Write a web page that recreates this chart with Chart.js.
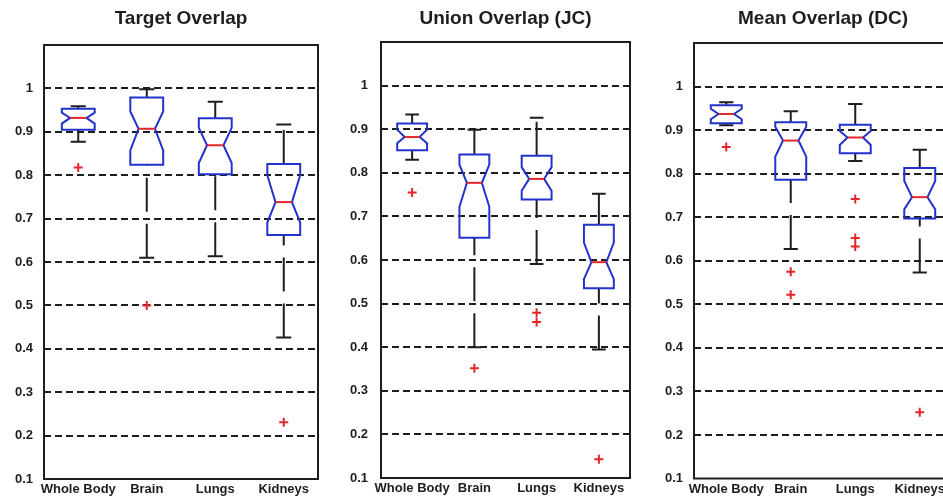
<!DOCTYPE html>
<html>
<head>
<meta charset="utf-8">
<script src="https://cdn.jsdelivr.net/npm/chart.js@4/dist/chart.umd.min.js"></script>
<style>
  html, body { margin: 0; padding: 0; background: #fff; }
  body { width: 943px; height: 502px; position: relative; overflow: hidden; }
  canvas { position: absolute; top: 0; }
</style>
</head>
<body>
<canvas id="target" width="330" height="502" style="left:0px"></canvas>
<canvas id="union" width="320" height="502" style="left:320px"></canvas>
<canvas id="mean" width="340" height="502" style="left:630px"></canvas>
<script>
const categories = ['Whole Body', 'Brain', 'Lungs', 'Kidneys'];
const yTicks = [0.1, 0.2, 0.3, 0.4, 0.5, 0.6, 0.7, 0.8, 0.9, 1];
const yTickLabels = ['0.1', '0.2', '0.3', '0.4', '0.5', '0.6', '0.7', '0.8', '0.9', '1'];
const titles = ['Target Overlap', 'Union Overlap (JC)', 'Mean Overlap (DC)'];

// Target Overlap
const targetLow = [0.877, 0.610, 0.613, 0.426];
const targetQ1 = [0.905, 0.824, 0.802, 0.662];
const targetNotchLo = [0.919, 0.857, 0.828, 0.691];
const targetMedian = [0.932, 0.907, 0.869, 0.738];
const targetNotchHi = [0.944, 0.947, 0.909, 0.800];
const targetQ3 = [0.953, 0.979, 0.931, 0.826];
const targetHigh = [0.959, 0.998, 0.969, 0.917];
const targetOutliers = [[0.818], [0.500], [], [0.231]];

// Union Overlap (JC)
const unionLow = [0.830, 0.400, 0.591, 0.395];
const unionQ1 = [0.852, 0.651, 0.739, 0.535];
const unionNotchLo = [0.868, 0.722, 0.759, 0.556];
const unionMedian = [0.882, 0.777, 0.786, 0.595];
const unionNotchHi = [0.899, 0.819, 0.813, 0.640];
const unionQ3 = [0.913, 0.842, 0.839, 0.681];
const unionHigh = [0.934, 0.899, 0.926, 0.752];
const unionOutliers = [[0.755], [0.352], [0.479, 0.458], [0.143]];

// Mean Overlap (DC)
const meanLow = [0.911, 0.627, 0.829, 0.573];
const meanQ1 = [0.916, 0.786, 0.847, 0.697];
const meanNotchLo = [0.925, 0.839, 0.866, 0.718];
const meanMedian = [0.937, 0.876, 0.883, 0.746];
const meanNotchHi = [0.949, 0.908, 0.898, 0.783];
const meanQ3 = [0.957, 0.918, 0.912, 0.813];
const meanHigh = [0.964, 0.943, 0.960, 0.855];
const meanOutliers = [[0.861], [0.575, 0.522], [0.742, 0.652, 0.633], [0.252]];

const FONT = "'Liberation Sans', Arial, Helvetica, sans-serif";
const INK = '#1e1e1e';
const BLUE = '#2233cc';
const RED = '#e3262b';

// draws notched boxes + dashed whiskers through the chart scales
const makeBoxPlugin = (s) => ({
  id: 'notchedBoxes',
  beforeDatasetsDraw(chart) {
    const ctx = chart.ctx;
    const x = chart.scales.x;
    const y = chart.scales.y;
    const catW = x.getPixelForValue(1) - x.getPixelForValue(0);
    const hw = catW * 0.24;
    const capW = catW * 0.11;
    const py = (v) => y.getPixelForValue(v);
    ctx.save();
    categories.forEach((c, i) => {
      const cx = x.getPixelForValue(i);
      ctx.lineWidth = 2;
      ctx.strokeStyle = INK;
      ctx.setLineDash([34, 12]);
      ctx.beginPath();
      ctx.moveTo(cx, py(s.low[i]));
      ctx.lineTo(cx, py(s.q1[i]));
      ctx.stroke();
      ctx.beginPath();
      ctx.moveTo(cx, py(s.q3[i]));
      ctx.lineTo(cx, py(s.high[i]));
      ctx.stroke();
      ctx.setLineDash([]);
      ctx.beginPath();
      ctx.moveTo(cx - capW, py(s.low[i]));
      ctx.lineTo(cx + capW, py(s.low[i]));
      ctx.moveTo(cx - capW, py(s.high[i]));
      ctx.lineTo(cx + capW, py(s.high[i]));
      ctx.stroke();

      ctx.strokeStyle = BLUE;
      ctx.beginPath();
      ctx.moveTo(cx - hw, py(s.q1[i]));
      ctx.lineTo(cx - hw, py(s.notchLo[i]));
      ctx.lineTo(cx - hw / 2, py(s.median[i]));
      ctx.lineTo(cx - hw, py(s.notchHi[i]));
      ctx.lineTo(cx - hw, py(s.q3[i]));
      ctx.lineTo(cx + hw, py(s.q3[i]));
      ctx.lineTo(cx + hw, py(s.notchHi[i]));
      ctx.lineTo(cx + hw / 2, py(s.median[i]));
      ctx.lineTo(cx + hw, py(s.notchLo[i]));
      ctx.lineTo(cx + hw, py(s.q1[i]));
      ctx.closePath();
      ctx.stroke();

      ctx.strokeStyle = RED;
      ctx.beginPath();
      ctx.moveTo(cx - hw / 2, py(s.median[i]));
      ctx.lineTo(cx + hw / 2, py(s.median[i]));
      ctx.stroke();
    });
    ctx.restore();
  },
  afterDraw(chart) {
    const {ctx, chartArea: a} = chart;
    ctx.save();
    ctx.strokeStyle = INK;
    ctx.lineWidth = 2;
    ctx.strokeRect(a.left, a.top, a.right - a.left, a.bottom - a.top);
    ctx.restore();
  }
});

const outlierPoints = (outliers) => {
  const pts = [];
  outliers.forEach((list, i) => {
    list.forEach((v) => pts.push({x: categories[i], y: v}));
  });
  return pts;
};

const makeChart = (id, title, stats, outliers, lay) => {
  new Chart(document.getElementById(id), {
    type: 'scatter',
    data: {
      labels: categories,
      datasets: [{
        data: outlierPoints(outliers),
        pointStyle: 'cross',
        pointRadius: 4.5,
        pointHoverRadius: 4.5,
        borderColor: RED,
        backgroundColor: RED,
        borderWidth: 2
      }]
    },
    options: {
      responsive: false,
      animation: false,
      devicePixelRatio: 1,
      layout: {padding: {left: 0, right: lay.right, top: 0, bottom: 0}},
      plugins: {
        legend: {display: false},
        tooltip: {enabled: false},
        title: {
          display: true,
          text: title,
          fullSize: false,
          color: INK,
          font: {family: FONT, size: 19, weight: 'bold', lineHeight: 1.2},
          padding: {top: 7, bottom: lay.titleBottom}
        }
      },
      scales: {
        x: {
          type: 'category',
          offset: true,
          grid: {display: false, drawTicks: false},
          border: {display: false},
          ticks: {color: INK, padding: 3, maxRotation: 0, autoSkip: false,
            font: {family: FONT, size: 13, weight: 'bold'}},
          afterFit: (sc) => { sc.height = lay.xHeight; }
        },
        y: {
          type: 'linear',
          min: 0.1,
          max: 1.1,
          afterBuildTicks: (sc) => { sc.ticks = yTicks.map((v) => ({value: v})); },
          grid: {
            drawTicks: false,
            lineWidth: 2,
            color: (c) => (c.tick && c.tick.value > 0.15 ? INK : 'rgba(0,0,0,0)')
          },
          border: {display: false, dash: [7, 4]},
          ticks: {
            color: INK,
            padding: lay.tickPad,
            font: {family: FONT, size: 13, weight: 'bold'},
            callback: (v, i) => yTickLabels[i]
          },
          afterFit: (sc) => { sc.width = lay.yWidth; }
        }
      }
    },
    plugins: [makeBoxPlugin(stats)]
  });
};

makeChart('target', titles[0], {
  low: targetLow, q1: targetQ1, notchLo: targetNotchLo, median: targetMedian,
  notchHi: targetNotchHi, q3: targetQ3, high: targetHigh
}, targetOutliers, {yWidth: 44, right: 12, titleBottom: 15.2, xHeight: 23, tickPad: 11});

makeChart('union', titles[1], {
  low: unionLow, q1: unionQ1, notchLo: unionNotchLo, median: unionMedian,
  notchHi: unionNotchHi, q3: unionQ3, high: unionHigh
}, unionOutliers, {yWidth: 61, right: 10, titleBottom: 12.2, xHeight: 24, tickPad: 13});

makeChart('mean', titles[2], {
  low: meanLow, q1: meanQ1, notchLo: meanNotchLo, median: meanMedian,
  notchHi: meanNotchHi, q3: meanQ3, high: meanHigh
}, meanOutliers, {yWidth: 64, right: 18, titleBottom: 13.2, xHeight: 23.5, tickPad: 11});
</script>
</body>
</html>
